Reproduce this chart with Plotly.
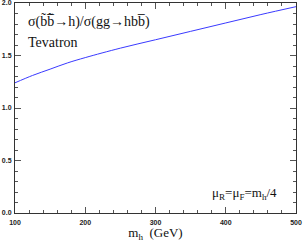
import plotly.graph_objects as go

m_h = [100, 125, 150, 175, 200, 250, 300, 350, 400, 450, 500]
ratio = [1.24, 1.31, 1.37, 1.43, 1.48, 1.57, 1.65, 1.73, 1.81, 1.89, 1.965]

x_ticks = [100, 200, 300, 400, 500]
y_ticks = [0.0, 0.5, 1.0, 1.5, 2.0]
y_tick_labels = ["0.0", "0.5", "1.0", "1.5", "2.0"]

fig = go.Figure()
fig.add_trace(go.Scatter(x=m_h, y=ratio, mode="lines", line=dict(color="#3a3aff", width=1, shape="spline"), showlegend=False))

tickfont = dict(family="Liberation Sans", size=7, color="#222", weight="bold")
axcommon = dict(showline=True, linecolor="#333", linewidth=1, mirror="ticks", ticks="inside",
                ticklen=6, tickcolor="#555", showgrid=False, zeroline=False, tickfont=tickfont,
                automargin=False, ticklabeloverflow="allow")

fig.update_xaxes(range=[100, 500], tickvals=x_ticks, ticktext=[str(v) for v in x_ticks],
                 minor=dict(ticks="inside", ticklen=3, dtick=20, tick0=100, tickcolor="#555"),
                 title=dict(text="m<sub>h</sub>  (GeV)", font=dict(family="Liberation Serif", size=13, color="#111"), standoff=2),
                 ticklabelstandoff=3,
                 **axcommon)
fig.update_yaxes(range=[0, 2.0], tickvals=y_ticks, ticktext=y_tick_labels,
                 minor=dict(ticks="inside", ticklen=3, dtick=0.1, tick0=0, tickcolor="#555"),
                 ticklabelstandoff=1, **axcommon)

serif = dict(family="Liberation Serif", size=14, color="#111")
fig.add_annotation(x=0.04, y=0.91, xref="paper", yref="paper", xanchor="left", yanchor="middle", showarrow=False,
                   text="σ(b\u0303b\u0305\u0303→h)/σ(gg→hbb\u0305)", font=serif)
fig.add_annotation(x=0.04, y=0.81, xref="paper", yref="paper", xanchor="left", yanchor="middle", showarrow=False,
                   text="Tevatron", font=serif)
fig.add_annotation(x=0.94, y=0.095, xref="paper", yref="paper", xanchor="right", yanchor="middle", showarrow=False,
                   text="μ<sub>R</sub>=μ<sub>F</sub>=m<sub>h</sub>/4", font=dict(family="Liberation Serif", size=13, color="#111"))

fig.update_layout(width=304, height=242, margin=dict(l=15, r=8, t=3, b=29),
                  plot_bgcolor="white", paper_bgcolor="white")
fig.write_html("out.html", config={"displayModeBar": False},
               post_script="document.body.style.margin='0';")
